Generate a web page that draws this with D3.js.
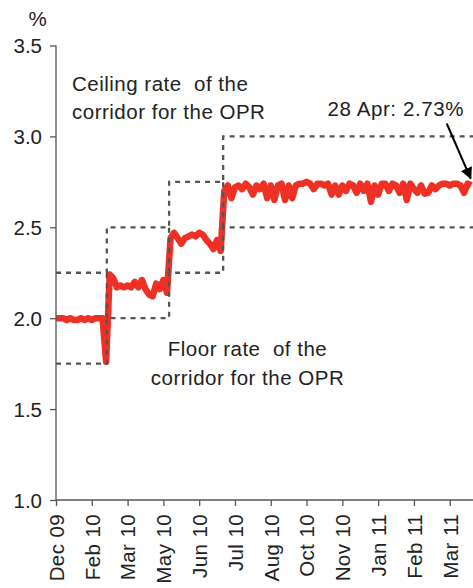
<!DOCTYPE html>
<html>
<head>
<meta charset="utf-8">
<script src="https://cdn.jsdelivr.net/npm/d3@7"></script>
<style>
  body { margin: 0; background: #fff; }
  text { font-family: "Liberation Sans", Arial, sans-serif; fill: #222; white-space: pre; }
</style>
</head>
<body>
<div id="chart"></div>
<script>
// labels on the x axis, one every `tickEvery` observations
const tickLabels = ["Dec 09", "Feb 10", "Mar 10", "May 10", "Jun 10", "Jul 10",
  "Aug 10", "Oct 10", "Nov 10", "Jan 11", "Feb 11", "Mar 11"];
const tickEvery = 10;

const oprRate = [
  2.00, 2.00, 2.00, 1.99, 2.00, 1.99, 1.99, 2.00, 1.99, 2.00,
  1.99, 2.00, 2.00, 2.00, 1.76, 2.24, 2.22, 2.17, 2.18, 2.17,
  2.18, 2.17, 2.20, 2.17, 2.21, 2.16, 2.13, 2.12, 2.19, 2.16,
  2.21, 2.14, 2.44, 2.47, 2.44, 2.41, 2.44, 2.45, 2.46, 2.45,
  2.47, 2.46, 2.43, 2.41, 2.38, 2.43, 2.37, 2.70, 2.73, 2.66,
  2.72, 2.73, 2.71, 2.74, 2.72, 2.68, 2.73, 2.71, 2.74, 2.66,
  2.73, 2.65, 2.73, 2.74, 2.65, 2.73, 2.66, 2.73, 2.74, 2.74,
  2.75, 2.74, 2.71, 2.74, 2.74, 2.73, 2.74, 2.68, 2.73, 2.68,
  2.73, 2.70, 2.74, 2.73, 2.69, 2.74, 2.70, 2.74, 2.64, 2.73,
  2.68, 2.74, 2.74, 2.70, 2.74, 2.73, 2.69, 2.74, 2.65, 2.74,
  2.71, 2.69, 2.73, 2.685, 2.69, 2.73, 2.71, 2.73, 2.74, 2.74,
  2.73, 2.74, 2.74, 2.73, 2.69, 2.74, 2.73
];

// policy corridor: each regime starts at an observation index
const corridorStart = [0, 14.2, 31.6, 46.7];
const floorRate = [1.75, 2.00, 2.25, 2.50];
const ceilingRate = [2.25, 2.50, 2.75, 3.00];

const yTicks = [1.0, 1.5, 2.0, 2.5, 3.0, 3.5];

const width = 473, height = 588;
const xEnd = 116.5;

const svg = d3.select("#chart").append("svg")
  .attr("width", width)
  .attr("height", height);

const x = d3.scaleLinear().domain([0, xEnd]).range([56, 473]);
const y = d3.scaleLinear().domain([1.0, 3.5]).range([500, 45.5]);

// red rate line
const line = d3.line()
  .x((d, i) => x(i))
  .y((d) => y(d));

svg.append("path")
  .datum(oprRate)
  .attr("d", line)
  .attr("fill", "none")
  .attr("stroke", "#ee3124")
  .attr("stroke-width", 6.5)
  .attr("stroke-linejoin", "round");

// corridor (dashed)
const steps = (rates) => {
  const pts = rates.map((r, i) => [corridorStart[i], r]);
  pts.push([xEnd, rates[rates.length - 1]]);
  return pts;
};
const stepLine = d3.line()
  .x((d) => x(d[0]))
  .y((d) => y(d[1]))
  .curve(d3.curveStepAfter);

const dash = svg.append("g")
  .attr("fill", "none")
  .attr("stroke", "#555")
  .attr("stroke-width", 2.3)
  .attr("stroke-dasharray", "5,5");

dash.append("path").attr("d", stepLine(steps(floorRate)));
dash.append("path").attr("d", stepLine(steps(ceilingRate)));
// connectors between new floor and old ceiling
corridorStart.slice(1).forEach((s, k) => {
  dash.append("line")
    .attr("x1", x(s)).attr("x2", x(s))
    .attr("y1", y(floorRate[k + 1]))
    .attr("y2", y(ceilingRate[k]));
});

// axes
const yAxis = d3.axisLeft(y)
  .tickValues(yTicks)
  .tickSize(6)
  .tickFormat(d3.format(".1f"));

const xAxis = d3.axisBottom(x)
  .tickValues(tickLabels.map((d, i) => i * tickEvery))
  .tickSize(6)
  .tickFormat((d, i) => tickLabels[i]);

const gy = svg.append("g")
  .attr("transform", `translate(${x(0)},0)`)
  .call(yAxis);
gy.select(".domain").attr("d", `M0,${y(3.5)}V${y(1.0)}`);

const gx = svg.append("g")
  .attr("transform", `translate(0,${y(1.0)})`)
  .call(xAxis);
gx.select(".domain").attr("d", `M${x(0)},0H${width}`);

[gx, gy].forEach((g) => {
  g.selectAll(".domain, .tick line").attr("stroke", "#555").attr("stroke-width", 1.3);
  g.selectAll("text").style("font-size", "20.5px").attr("fill", "#222");
});
gy.selectAll("text").attr("x", -14).attr("dy", "0.36em");
gx.selectAll("text")
  .attr("transform", "rotate(-90)")
  .attr("text-anchor", "end")
  .attr("x", -14)
  .attr("y", 0)
  .attr("dy", "0.36em")
  .style("letter-spacing", "0.4px");

svg.append("text")
  .attr("x", 37.5).attr("y", 26)
  .attr("text-anchor", "middle")
  .style("font-size", "20.5px")
  .text("%");

// annotations
const note = (lines, xx, yy, anchor) => {
  const t = svg.append("text")
    .attr("text-anchor", anchor)
    .style("font-size", "20.5px")
    .style("letter-spacing", "0.5px");
  lines.forEach((s, i) => {
    t.append("tspan").attr("x", xx).attr("y", yy + i * 28.8).text(s);
  });
};
note(["Ceiling rate  of the", "corridor for the OPR"], 72, 90.5, "start");
note(["Floor rate  of the", "corridor for the OPR"], 247.5, 356, "middle");

svg.append("text")
  .attr("x", 327.5).attr("y", 116)
  .style("font-size", "20.5px")
  .style("letter-spacing", "0.6px")
  .text("28 Apr: 2.73%");

svg.append("defs").append("marker")
  .attr("id", "head")
  .attr("viewBox", "0 0 10 10")
  .attr("refX", 9).attr("refY", 5)
  .attr("markerWidth", 6).attr("markerHeight", 6)
  .attr("orient", "auto")
  .append("path").attr("d", "M0,0L10,5L0,10Z").attr("fill", "#000");

const tipX = x(oprRate.length - 1) - 0.5;
const tipY = y(oprRate[oprRate.length - 1]) - 7;
svg.append("line")
  .attr("x1", tipX - 24).attr("y1", tipY - 55)
  .attr("x2", tipX).attr("y2", tipY)
  .attr("stroke", "#000")
  .attr("stroke-width", 2)
  .attr("marker-end", "url(#head)");
</script>
</body>
</html>
